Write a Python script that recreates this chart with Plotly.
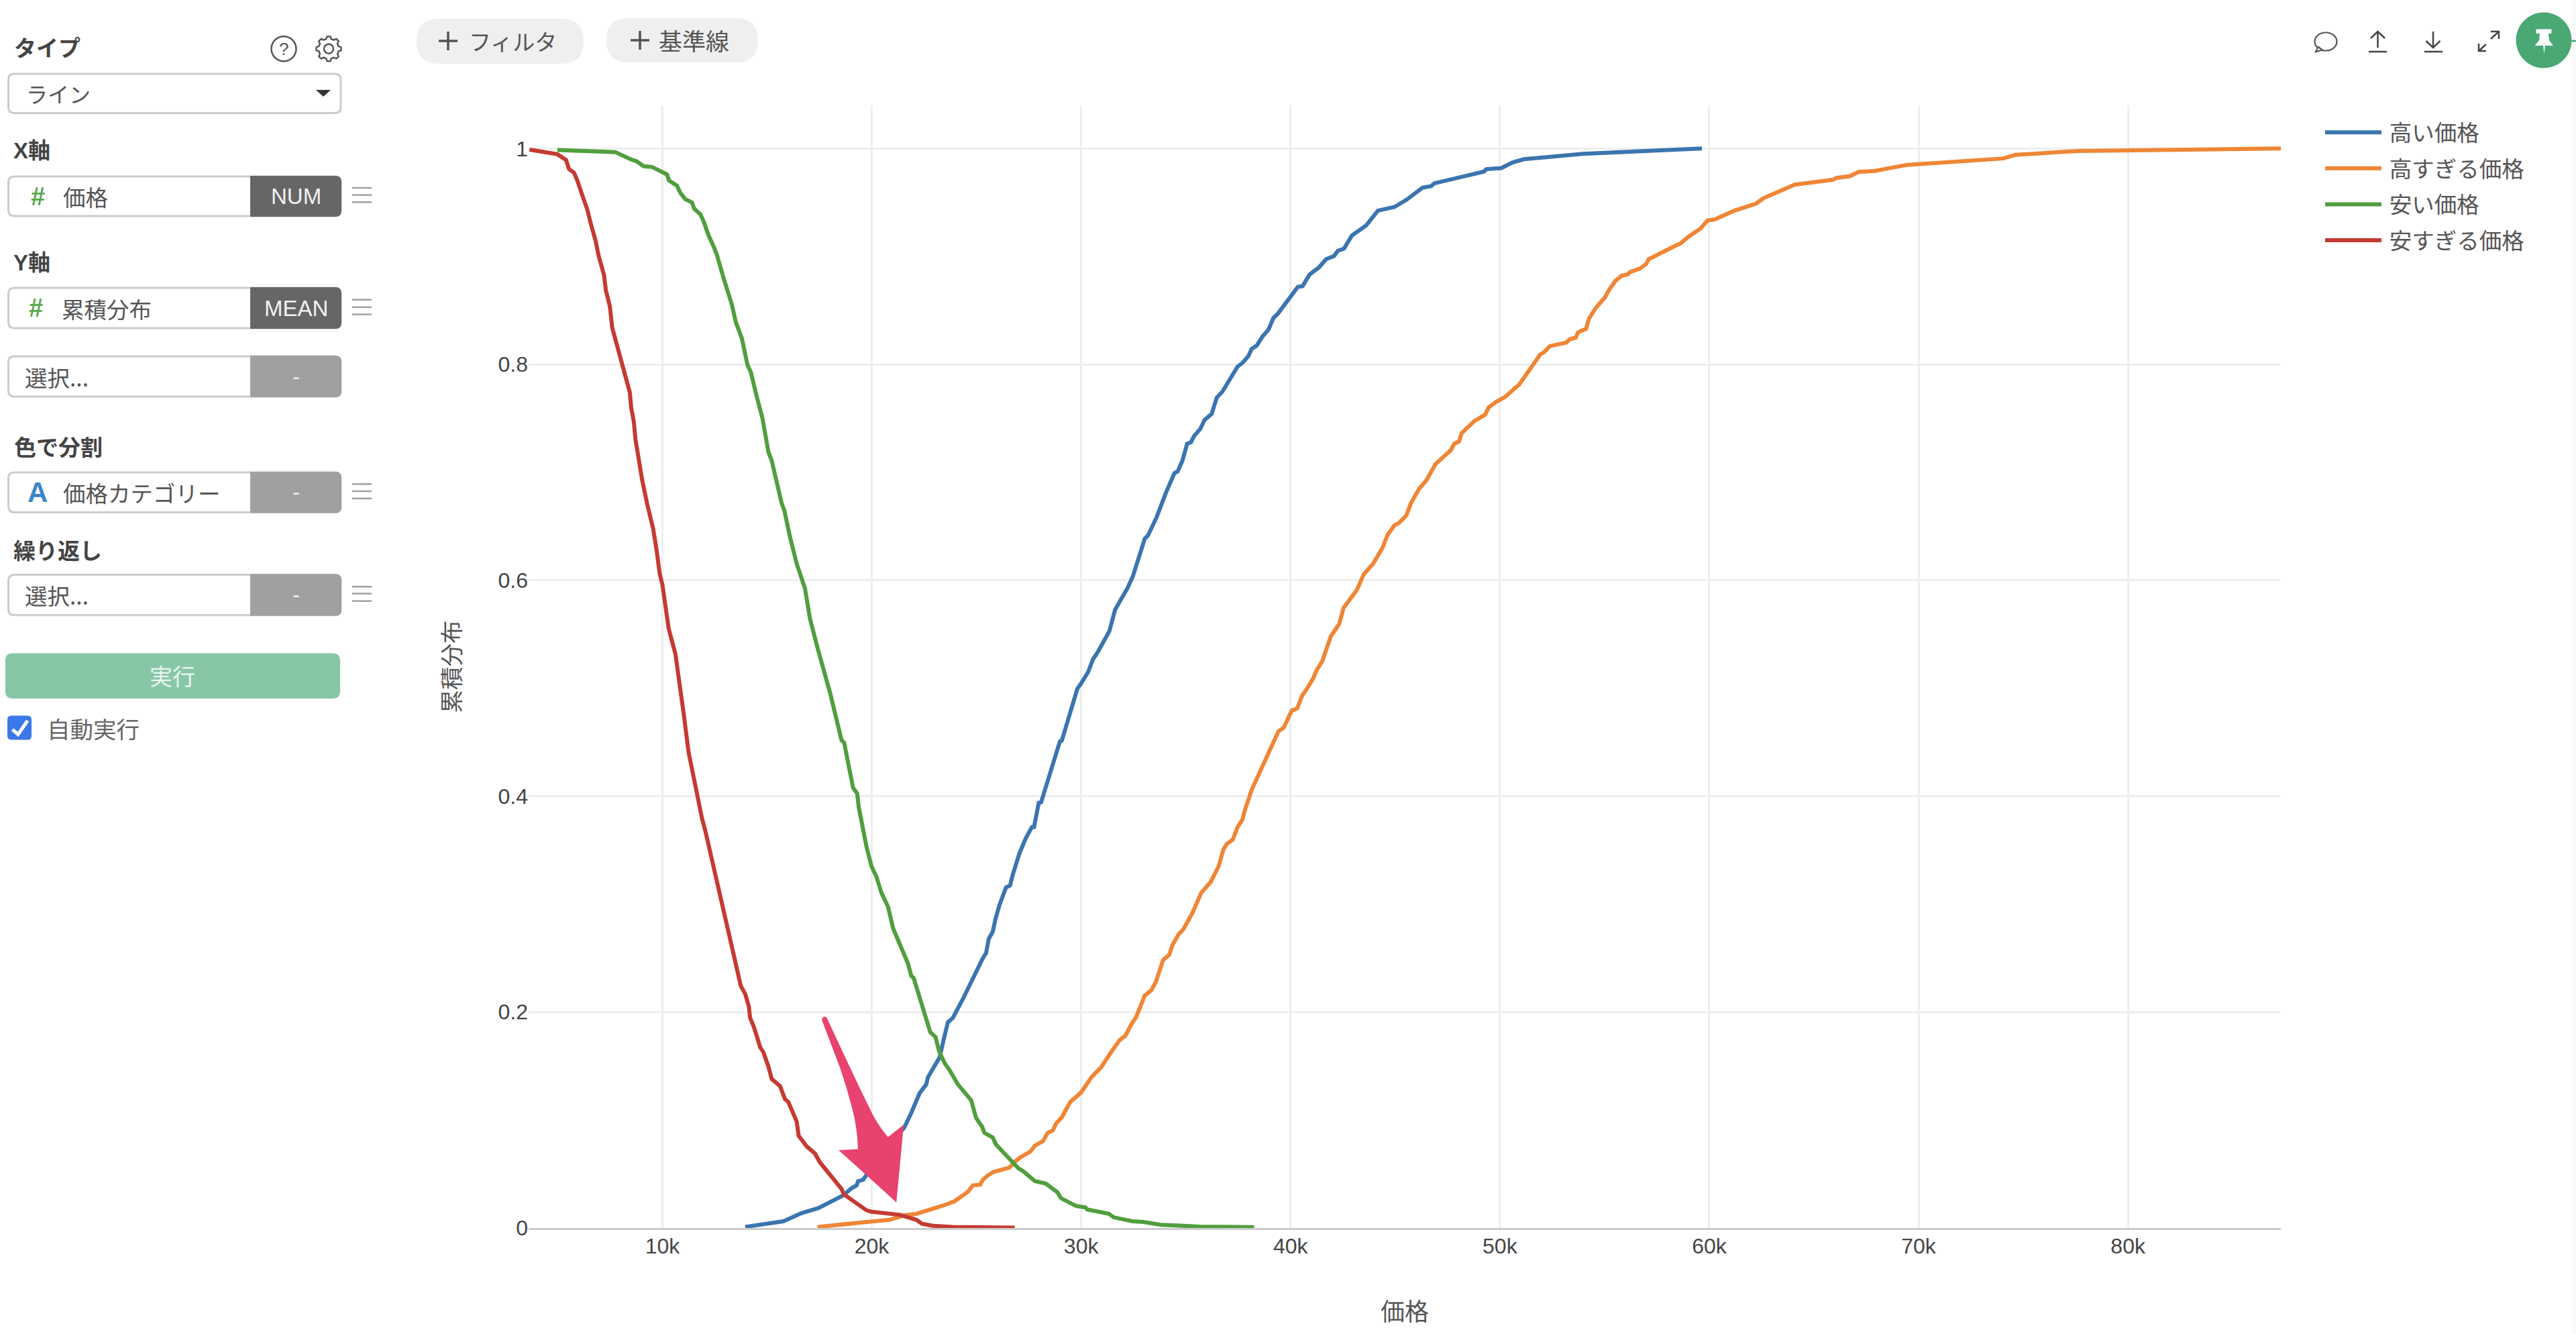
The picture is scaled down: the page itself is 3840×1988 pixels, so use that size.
import math
import plotly.graph_objects as go

W, H = 3840, 1988
FONT = "Liberation Sans, Noto Sans CJK JP, sans-serif"
CJK = "Noto Sans CJK JP, Liberation Sans, sans-serif"

names = ["高い価格", "高すぎる価格", "安い価格", "安すぎる価格"]
colors = ["#3b75af", "#ef8636", "#519e3e", "#c53a32"]

high_x = [13952,15778,16651,17444,18635,19032,19270,19349,19587,19984,20857,21571,21889,22095,22286,22603,22683,23079,23238,23429,23635,23873,24349,25302,25460,25587,25778,25905,26095,26413,26603,26730,27048,27365,27651,27750,27975,28088,28583,28988,29078,29820,30000,30337,30562,30787,31350,31620,31912,32205,32475,33037,33195,33600,34050,34455,34612,34837,35062,35242,35400,35692,35894,36232,36479,36749,37469,37694,37987,38144,38391,38661,38954,39179,39404,39899,40349,40574,40911,41361,41698,42081,42261,42553,42936,43610,44173,44961,45523,46310,46715,46873,49235,49347,50067,50584,51147,53959,56884,57334,59651]
high_y = [.001,.0062,.0138,.0184,.0302,.0368,.0394,.0434,.0447,.0559,.0756,.0937,.1068,.1167,.1249,.1331,.1397,.1528,.1578,.1742,.1906,.1946,.212,.2498,.2547,.2679,.2744,.2859,.2991,.3155,.3172,.327,.3468,.3615,.3714,.3714,.3938,.3944,.4273,.4509,.4516,.4996,.5045,.5152,.5267,.5333,.553,.5727,.5826,.5924,.6039,.6385,.6417,.6582,.6812,.6993,.7009,.7108,.7265,.7279,.7338,.7403,.7486,.7541,.7693,.7749,.7979,.8012,.8077,.8143,.8176,.8258,.8324,.8429,.8472,.8603,.8718,.8725,.8833,.8899,.8975,.9004,.9053,.9073,.9195,.9287,.9425,.9458,.9523,.9638,.9652,.9678,.9786,.9809,.9819,.9869,.9901,.9951,.9974,.9984,1.0]

too_high_x = [17413,19587,20857,21571,22127,23397,23952,24587,24825,25175,25302,25540,25810,26571,26857,27120,27570,27795,28178,28403,28650,28808,29078,29258,29483,30000,30202,30495,30945,31282,31507,31845,32115,32407,32632,33037,33352,33577,33915,34207,34365,34657,34882,35332,35512,35737,36187,36570,36794,36952,37244,37469,37694,37806,38144,38819,39426,39674,40056,40326,40551,40800,41069,41249,41518,41924,42328,42531,42936,43161,43498,43948,44398,44623,44961,45186,45523,45748,46131,46490,46918,47660,47818,48043,48178,48785,49303,49460,49798,50247,50922,51215,51935,52092,52384,53172,53329,53622,53734,54117,54252,54567,55017,55197,55534,55827,56097,56209,56704,56997,57109,58346,58616,59021,59584,59921,60259,61214,62245,62589,63047,63780,64078,65911,66071,66712,67125,67904,69462,74044,74617,77595,81833,87300]
too_high_y = [.001,.0049,.0076,.0118,.0131,.0207,.0247,.0335,.0394,.0401,.0447,.0486,.0519,.0559,.0618,.0657,.0707,.0763,.0805,.0881,.0904,.097,.1025,.1091,.1167,.1256,.1315,.1397,.1486,.1594,.165,.1742,.1781,.189,.1956,.2153,.2202,.2284,.2482,.2531,.2623,.2721,.2767,.2925,.3007,.3106,.3205,.3352,.3507,.3556,.3599,.3714,.378,.3862,.4059,.4338,.4602,.4634,.4792,.4815,.493,.5,.5086,.5168,.5251,.5481,.5596,.5744,.5859,.5908,.6056,.6155,.6302,.6417,.6509,.6533,.6598,.6713,.6845,.6927,.7075,.7206,.7265,.7285,.7364,.7476,.7535,.7601,.765,.7699,.7814,.7896,.8094,.811,.8169,.8202,.8232,.8248,.8297,.833,.8422,.8521,.862,.8685,.8777,.8823,.8833,.8856,.8889,.8932,.8975,.9096,.9119,.9185,.926,.9333,.9343,.9425,.9491,.954,.9579,.9648,.9665,.9711,.9727,.9744,.9783,.9793,.9849,.9908,.9941,.9977,.9987,1.0]

low_x = [4984,7746,8476,8762,9111,9508,10222,10317,10698,10857,11095,11413,11524,11810,11968,12206,12476,12603,12921,13317,13508,13794,14063,14222,14508,14778,15063,15222,15698,15825,16095,16413,16810,17048,17444,17841,18000,18556,18683,18873,19111,19302,19381,19746,19984,20222,20460,20778,21016,21730,21889,22000,22444,22794,23048,23206,23476,23714,24111,24746,24984,25270,25381,25778,25937,26413,26730,27008,27233,27795,28313,28875,29033,29303,29753,30202,30292,31327,31552,32452,32970,33802,35669,38256]
low_y = [.9987,.9967,.9901,.9882,.9836,.9829,.976,.9704,.9655,.9589,.953,.95,.9441,.9392,.9326,.9195,.908,.9014,.88,.8554,.839,.8242,.7995,.7929,.77,.7502,.719,.7108,.6713,.6647,.6401,.6155,.5924,.5645,.5349,.5082,.4963,.4519,.4496,.4306,.4076,.4026,.3895,.3533,.3352,.3254,.3106,.2975,.2777,.2449,.2334,.2317,.2021,.1814,.1768,.1643,.1528,.1463,.1331,.1183,.1019,.0937,.0881,.0838,.0772,.0674,.0608,.0552,.0526,.0434,.0411,.0329,.0276,.0247,.0204,.0191,.0171,.0131,.0099,.0062,.0056,.003,.0013,.0007]

too_low_x = [3650,4984,5397,5540,5778,5937,6175,6413,6571,6810,6952,7206,7302,7492,7603,7841,8159,8444,8508,8635,8714,8873,9032,9270,9556,9714,9873,10000,10143,10302,10619,10740,11016,11254,11524,11683,11889,12048,12286,12476,12762,13079,13397,13746,13952,14127,14190,14381,14667,14825,15063,15222,15381,15619,15857,16016,16413,16508,16889,17286,17524,18079,18556,18667,19270,19746,19984,20460,21333,22127,22397,22921,23873,26825]
too_low_y = [.999,.9947,.9895,.981,.9776,.9704,.9566,.9435,.931,.9145,.9007,.8833,.8685,.8537,.834,.816,.793,.774,.76,.747,.7305,.711,.693,.671,.648,.629,.606,.596,.573,.555,.532,.513,.4766,.4404,.4125,.3977,.3796,.3681,.3484,.3287,.3057,.2794,.2531,.2242,.2169,.2054,.1946,.1857,.1676,.1627,.1495,.138,.1354,.1315,.1193,.1167,.0986,.0855,.0756,.069,.0608,.0477,.0362,.0312,.023,.0164,.0151,.0141,.0122,.0076,.0039,.002,.001,.0003]

xs = [high_x, too_high_x, low_x, too_low_x]
ys = [high_y, too_high_y, low_y, too_low_y]

x_ticks = [10000, 20000, 30000, 40000, 50000, 60000, 70000, 80000]
x_labels = ["10k", "20k", "30k", "40k", "50k", "60k", "70k", "80k"]
y_ticks = [0, 0.2, 0.4, 0.6, 0.8, 1]
y_labels = ["0", "0.2", "0.4", "0.6", "0.8", "1"]
x_title = "価格"
y_title = "累積分布"
x_range = [3610, 87300]
y_range = [0, 1.04]

PLOT_L, PLOT_R, PLOT_T, PLOT_B = 788, 3400, 157, 1830


def fx(x):
    return x / W


def fy(y):
    return 1 - y / H


def pt(x, y):
    return f"{fx(x):.6f},{fy(y):.6f}"


shapes = []
annots = []


def path(d, fill=None, line=None, lw=0):
    s = dict(type="path", xref="paper", yref="paper", path=d, layer="above")
    s["fillcolor"] = fill if fill else "rgba(0,0,0,0)"
    s["line"] = dict(color=line if line else "rgba(0,0,0,0)", width=lw)
    shapes.append(s)


def poly(pts, fill=None, line=None, lw=0, close=True):
    d = "M" + " L".join(pt(*p) for p in pts) + (" Z" if close else "")
    path(d, fill, line, lw)


def rrect_path(x0, y0, x1, y1, r, rl=True, rr=True):
    rl_ = r if rl else 0
    rr_ = r if rr else 0
    return (f"M{pt(x0+rl_,y0)} L{pt(x1-rr_,y0)} Q{pt(x1,y0)} {pt(x1,y0+rr_)} "
            f"L{pt(x1,y1-rr_)} Q{pt(x1,y1)} {pt(x1-rr_,y1)} L{pt(x0+rl_,y1)} "
            f"Q{pt(x0,y1)} {pt(x0,y1-rl_)} L{pt(x0,y0+rl_)} Q{pt(x0,y0)} {pt(x0+rl_,y0)} Z")


def rrect(x0, y0, x1, y1, r, fill=None, line=None, lw=0, rl=True, rr=True):
    path(rrect_path(x0, y0, x1, y1, r, rl, rr), fill, line, lw)


def ellipse(cx, cy, rx, ry, fill=None, line=None, lw=0):
    k = 0.5523
    d = (f"M{pt(cx-rx,cy)} C{pt(cx-rx,cy-k*ry)} {pt(cx-k*rx,cy-ry)} {pt(cx,cy-ry)} "
         f"C{pt(cx+k*rx,cy-ry)} {pt(cx+rx,cy-k*ry)} {pt(cx+rx,cy)} "
         f"C{pt(cx+rx,cy+k*ry)} {pt(cx+k*rx,cy+ry)} {pt(cx,cy+ry)} "
         f"C{pt(cx-k*rx,cy+ry)} {pt(cx-rx,cy+k*ry)} {pt(cx-rx,cy)} Z")
    path(d, fill, line, lw)


def seg(x0, y0, x1, y1, color, lw):
    poly([(x0, y0), (x1, y1)], None, color, lw, close=False)


def text(s, x, y, size=33, color="#555555", anchor="left", bold=False, family=CJK, angle=0):
    annots.append(dict(text=s, x=fx(x), y=fy(y), xref="paper", yref="paper", showarrow=False,
                       xanchor=anchor, yanchor="middle", textangle=angle,
                       font=dict(family=family, size=size, color=color,
                                 weight="bold" if bold else "normal"),
                       borderpad=0, borderwidth=0))


def hamburger(y0, y1, y2):
    for y in (y0, y1, y2):
        seg(525, y, 554, y, "#a0a0a0", 2.5)


def field(y0, y1, label=None, badge="-", dark=False, tx=37, hash_x=None, icon=None, lines=None):
    c = "#666666" if dark else "#a0a0a0"
    rrect(12.5, y0, 508, y1, 9, "#ffffff", "#cccccc", 3)
    rrect(373, y0 - 1, 509, y1 + 1, 9, c, None, 0, rl=False)
    cy = (y0 + y1) / 2
    if hash_x:
        text("#", hash_x, cy, 38, "#5aa84f", "center", True, FONT)
    if icon:
        text(icon, 56, cy, 42, "#3b86c8", "center", True, FONT)
    text(label, tx, cy, 33.5, "#555555")
    text(badge, 441, cy, 33, "#f2f2f2", "center", False, FONT)
    if lines:
        hamburger(*lines)


# ---------- left panel ----------
text("タイプ", 21, 70, 33, "#444444", bold=True)
ellipse(423, 72.7, 18.5, 18.5, None, "#555555", 2.5)
text("?", 423, 72.7, 26, "#555555", "center", False, FONT)
gear = []
for i in range(48):
    a = 2 * math.pi * i / 48
    tooth = ((i + 1) % 6) < 3
    r = 18.5 if tooth else 15
    gear.append((490 + r * math.cos(a), 72.7 + r * math.sin(a)))
poly(gear, None, "#555555", 2.5)
ellipse(490, 72.7, 7, 7, None, "#555555", 2.5)

rrect(12.5, 110, 508, 168.5, 9, "#ffffff", "#cccccc", 3)
text("ライン", 39, 139, 32, "#555555")
poly([(471, 134), (493, 134), (482, 144)], "#333333")

text("X軸", 20, 224.5, 33, "#444444", bold=True, family=FONT)
field(263, 322, "価格", "NUM", True, 94, hash_x=56, lines=(280, 290.6, 301.3))
text("Y軸", 20, 392, 33, "#444444", bold=True, family=FONT)
field(429, 489, "累積分布", "MEAN", True, 92, hash_x=53, lines=(446.7, 457.7, 468.5))
field(531, 591, "選択...", "-")
text("色で分割", 21, 665.4, 33, "#444444", bold=True)
field(704, 763.6, "価格カテゴリー", "-", False, 94, icon="A", lines=(721.4, 732, 742.9))
text("繰り返し", 20, 818.6, 33, "#444444", bold=True)
field(856.4, 916.8, "選択...", "-", lines=(874.3, 884.6, 895.7))
rrect(8, 973.5, 507, 1041, 11, "#88c7a6")
text("実行", 257, 1007, 34, "#e8f5ee", "center")
rrect(11, 1066.5, 47, 1102.5, 6, "#3b78ea")
poly([(18.5, 1087), (27, 1094.5), (41, 1074)], None, "#ffffff", 5, close=False)
text("自動実行", 70, 1085, 34.5, "#666666")

# ---------- top bar ----------
rrect(621, 28, 870, 95, 33, "#efefef")
seg(654, 61, 682, 61, "#4d5358", 3.5)
seg(668, 47, 668, 75, "#4d5358", 3.5)
text("フィルタ", 699, 61, 33, "#555555")
rrect(904, 27, 1130, 93, 33, "#efefef")
seg(940, 60, 968, 60, "#4d5358", 3.5)
seg(954, 46, 954, 74, "#4d5358", 3.5)
text("基準線", 982, 60, 35, "#555555")

# comment icon
ellipse(3467, 62, 16.5, 13.5, "#ffffff", "#555555", 2.2)
poly([(3456, 70), (3452, 77), (3462, 74.5)], "#ffffff", "#555555", 2.2)
# upload / download / expand icons
seg(3544.5, 47, 3544.5, 71, "#444444", 2.5)
poly([(3534, 57), (3544.5, 47), (3555, 57)], None, "#444444", 2.5, close=False)
seg(3531, 77, 3558, 77, "#444444", 2.5)
seg(3627, 47, 3627, 71, "#444444", 2.5)
poly([(3616.5, 61), (3627, 71), (3637.5, 61)], None, "#444444", 2.5, close=False)
seg(3614, 77, 3641, 77, "#444444", 2.5)
seg(3695, 76, 3706, 66, "#444444", 2.5)
seg(3713, 58, 3724, 48, "#444444", 2.5)
poly([(3695, 65), (3695, 76), (3706, 76)], None, "#444444", 2.5, close=False)
poly([(3713, 47), (3725, 47), (3725, 58)], None, "#444444", 2.5, close=False)
# pin button
rrect(3834, 0, 3840, H, 0, "#fafafa")
seg(3830, 61, 3840, 61, "#4aa874", 2.5)
ellipse(3792, 60, 41.5, 41.5, "#4aa874")
poly([(3780.5, 43.5), (3803.5, 43.5), (3803.5, 50), (3799, 50), (3800, 60), (3806, 68),
      (3794, 68), (3792.5, 79.5), (3791, 68), (3778.5, 68), (3785, 60), (3786, 50), (3780.5, 50)],
     "#ffffff")

# ---------- callout arrow ----------
A = lambda x, y: pt(x, y)
arrow = (f"M{A(1225.3,1520.5)} Q{A(1225.3,1515.5)} {A(1229.3,1515)} Q{A(1232.5,1515.5)} {A(1233.7,1519.3)} "
         f"Q{A(1278,1615)} {A(1302.4,1663.8)} Q{A(1314,1684)} {A(1323.8,1694.5)} L{A(1347.2,1676)} "
         f"L{A(1336.2,1791.9)} L{A(1297.4,1756.4)} L{A(1250.1,1714.1)} L{A(1279,1712.5)} "
         f"Q{A(1278,1680)} {A(1270,1650.5)} Q{A(1262,1620)} {A(1252.6,1592.3)} L{A(1225.3,1520.5)} Z")
path(arrow, "#e8426f")

# ---------- figure ----------
fig = go.Figure()
for n, c, x, y in zip(names, colors, xs, ys):
    fig.add_trace(go.Scatter(x=x, y=y, mode="lines", name="\u2009" + n, legendgroup=n,
                             line=dict(color=c, width=6), hoverinfo="skip"))

fig.update_layout(
    width=W, height=H, margin=dict(l=0, r=0, t=0, b=0, autoexpand=False),
    paper_bgcolor="#ffffff", plot_bgcolor="#ffffff",
    font=dict(family=FONT, size=32, color="#444444"),
    xaxis=dict(domain=[fx(PLOT_L), fx(PLOT_R)], range=x_range, tickvals=x_ticks, ticktext=x_labels,
               showgrid=True, gridcolor="#eeeeee", gridwidth=3, zeroline=False, automargin=False,
               showline=True, linecolor="#cccccc", linewidth=3, ticks="", ticklabelstandoff=-3,
               title=dict(text=x_title, standoff=69, font=dict(family=CJK, size=36, color="#555555"))),
    yaxis=dict(domain=[fy(PLOT_B), fy(PLOT_T)], range=y_range, tickvals=y_ticks, ticktext=y_labels,
               showgrid=True, gridcolor="#eeeeee", gridwidth=3, zeroline=False, showline=False, ticks="",
               automargin=False,
               title=dict(text=y_title, standoff=45, font=dict(family=CJK, size=34.5, color="#555555"))),
    legend=dict(x=fx(3461), y=fy(169), xanchor="left", yanchor="top", itemwidth=84, tracegroupgap=7,
                font=dict(family=CJK, size=33.5, color="#555555"), bgcolor="rgba(0,0,0,0)"),
    shapes=shapes, annotations=annots, hovermode=False,
)

fig.write_html("out.html", config={"displayModeBar": False},
               post_script="document.body.style.margin='0';document.body.style.overflow='hidden';")
